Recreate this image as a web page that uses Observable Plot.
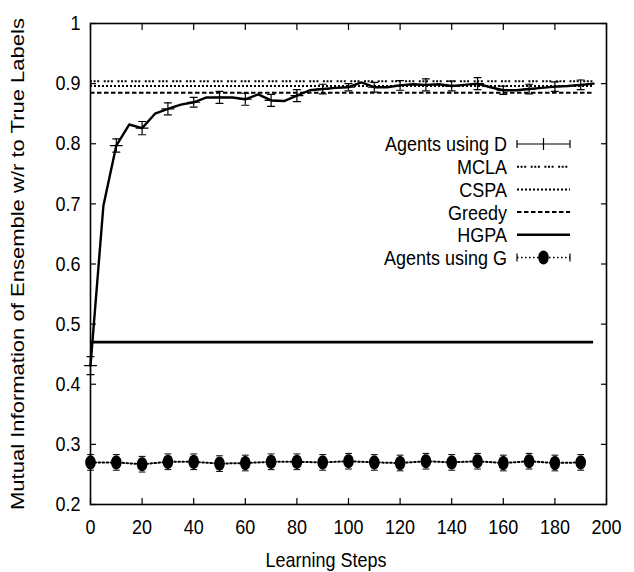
<!DOCTYPE html>
<html>
<head>
<meta charset="utf-8">
<script src="https://cdn.jsdelivr.net/npm/d3@7"></script>
<script src="https://cdn.jsdelivr.net/npm/@observablehq/plot@0.6"></script>
<style>
  html, body { margin: 0; padding: 0; background: white; }
  #chart svg { display: block; }
</style>
</head>
<body>
<div id="chart"></div>
<script>
// ---- data ----
const xTicks = [0, 20, 40, 60, 80, 100, 120, 140, 160, 180, 200];
const yTicks = [0.2, 0.3, 0.4, 0.5, 0.6, 0.7, 0.8, 0.9, 1];

const dSteps = [0,5,10,15,20,25,30,35,40,45,50,55,60,65,70,75,80,85,90,95,100,105,110,115,120,125,130,135,140,145,150,155,160,165,170,175,180,185,190,195];
const dValues = [0.431,0.697,0.797,0.832,0.826,0.850,0.858,0.865,0.869,0.877,0.877,0.877,0.874,0.882,0.872,0.871,0.880,0.889,0.891,0.893,0.894,0.902,0.894,0.894,0.897,0.899,0.898,0.899,0.896,0.898,0.900,0.894,0.889,0.889,0.891,0.893,0.895,0.896,0.898,0.900];

const errSteps = [0,10,20,30,40,50,60,70,80,90,100,110,120,130,140,150,160,170,180,190];
const dErr = [0.015,0.011,0.011,0.010,0.008,0.010,0.010,0.010,0.010,0.008,0.006,0.008,0.008,0.010,0.008,0.010,0.007,0.008,0.008,0.008];

const gValues = [0.270,0.270,0.267,0.271,0.271,0.268,0.269,0.271,0.271,0.270,0.272,0.270,0.269,0.272,0.270,0.272,0.269,0.272,0.269,0.270];
const gErr = [0.013,0.013,0.013,0.013,0.013,0.013,0.013,0.013,0.013,0.013,0.013,0.013,0.013,0.013,0.013,0.013,0.013,0.013,0.013,0.013];

const refNames = ["MCLA", "CSPA", "Greedy", "HGPA"];
const refValues = [0.904, 0.896, 0.885, 0.470];
const refSpan = [0, 195];

const legendLabels = ["Agents using D", "MCLA", "CSPA", "Greedy", "HGPA", "Agents using G"];

// ---- styles ----
const refDash = {MCLA: "2,1.6,2,1.6,2,4.5", CSPA: "2,2", Greedy: "4.5,2.5", HGPA: null};
const refWidth = {MCLA: 2, CSPA: 2, Greedy: 2, HGPA: 2.6};

// ---- tables ----
const dLine = dSteps.map((s, i) => ({step: s, value: dValues[i]}));
const dBars = errSteps.map((s, i) => {
  const v = dValues[dSteps.indexOf(s)];
  return {step: s, value: v, lo: v - dErr[i], hi: v + dErr[i]};
});
const gPts = errSteps.map((s, i) => ({step: s, value: gValues[i], lo: gValues[i] - gErr[i], hi: gValues[i] + gErr[i]}));
const refs = refNames.map((n, i) => ({name: n, value: refValues[i]}));

const ellipse = {
  draw(ctx, size) {
    const r = Math.sqrt(size / Math.PI);
    const rx = r * 0.88, ry = r * 1.18, n = 28;
    for (let k = 0; k <= n; k++) {
      const a = 2 * Math.PI * k / n;
      const px = rx * Math.cos(a), py = ry * Math.sin(a);
      if (k === 0) ctx.moveTo(px, py); else ctx.lineTo(px, py);
    }
    ctx.closePath();
  }
};
const stroke = { draw(ctx, l) { ctx.moveTo(0, 0); ctx.lineTo(0, -l); } };

const font = "'Liberation Sans', Arial, Helvetica, sans-serif";
const none = () => "";

const chart = Plot.plot({
  width: 634,
  height: 572,
  marginLeft: 90,
  marginRight: 28,
  marginTop: 23,
  marginBottom: 68,
  style: {fontFamily: font, fontSize: "18px", background: "white", color: "black", overflow: "visible"},
  x: {domain: [0, 200]},
  y: {domain: [0.2, 1]},
  marks: [
    // reference lines
    ...refs.map(r => Plot.ruleY([r], {
      y: "value", x1: refSpan[0], x2: refSpan[1],
      stroke: "black", strokeWidth: refWidth[r.name], strokeDasharray: refDash[r.name]
    })),
    // Agents using G
    Plot.line(gPts, {x: "step", y: "value", stroke: "black", strokeWidth: 2, strokeDasharray: "1.6,2.4"}),
    Plot.ruleX(gPts, {x: "step", y1: "lo", y2: "hi", stroke: "black", strokeWidth: 0.8, strokeDasharray: "1.5,1.5"}),
    Plot.vector(gPts, {x: "step", y: "lo", length: 6, rotate: 90, anchor: "middle", shape: stroke, stroke: "black", strokeWidth: 1}),
    Plot.vector(gPts, {x: "step", y: "hi", length: 6, rotate: 90, anchor: "middle", shape: stroke, stroke: "black", strokeWidth: 1}),
    Plot.dot(gPts, {x: "step", y: "value", r: 6, symbol: ellipse, fill: "black", stroke: "none"}),
    // Agents using D
    Plot.line(dLine, {x: "step", y: "value", stroke: "black", strokeWidth: 2.4}),
    Plot.ruleX(dBars, {x: "step", y1: "lo", y2: "hi", stroke: "black", strokeWidth: 1.2}),
    Plot.vector(dBars, {x: "step", y: "lo", length: 7, rotate: 90, anchor: "middle", shape: stroke, stroke: "black", strokeWidth: 1.2}),
    Plot.vector(dBars, {x: "step", y: "hi", length: 7, rotate: 90, anchor: "middle", shape: stroke, stroke: "black", strokeWidth: 1.2}),
    Plot.vector(dBars, {x: "step", y: "value", length: 12, rotate: 90, anchor: "middle", shape: stroke, stroke: "black", strokeWidth: 1.2}),
    // axes: labels (no tick marks)
    Plot.axisX({ticks: xTicks, tickSize: 0, tickPadding: 16, tickFormat: d => String(d), label: null}),
    Plot.axisY({ticks: yTicks, tickSize: 0, tickPadding: 10, tickFormat: d => d === 1 ? "1" : d.toFixed(1), label: null}),
    // axes: inward tick marks on all four sides
    Plot.axisX({ticks: xTicks, tickSize: -6, tickFormat: none, label: null, strokeWidth: 1.2}),
    Plot.axisX({anchor: "top", ticks: xTicks, tickSize: -6, tickFormat: none, label: null, strokeWidth: 1.2}),
    Plot.axisY({ticks: yTicks, tickSize: -6, tickFormat: none, label: null, strokeWidth: 1.2}),
    Plot.axisY({anchor: "right", ticks: yTicks, tickSize: -6, tickFormat: none, label: null, strokeWidth: 1.2}),
    Plot.frame({stroke: "black", strokeWidth: 1.6})
  ]
});

document.getElementById("chart").appendChild(chart);

// ---- axis titles & legend (annotation layer) ----
const svg = d3.select(chart);
svg.append("text")
  .attr("transform", "translate(18,264) rotate(-90)")
  .attr("text-anchor", "middle").attr("dominant-baseline", "central")
  .attr("font-family", font).attr("font-size", 18)
  .attr("textLength", 492).attr("lengthAdjust", "spacingAndGlyphs")
  .attr("fill", "black")
  .attr("class", "noscale")
  .text("Mutual Information of Ensemble w/r to True Labels");
svg.append("text")
  .attr("x", 326).attr("y", 560)
  .attr("text-anchor", "middle").attr("dominant-baseline", "central")
  .attr("font-family", font).attr("font-size", 18).attr("fill", "black")
  .text("Learning Steps");

const lg = svg.append("g");
const lx0 = 517, lx1 = 570, lxm = 543.5, ly0 = 144, ldy = 22.7, ltx = 507;
legendLabels.forEach((lab, i) => {
  const y = ly0 + i * ldy;
  lg.append("text").attr("x", ltx).attr("y", y)
    .attr("text-anchor", "end").attr("dominant-baseline", "central")
    .attr("font-family", font).attr("font-size", 18).attr("fill", "black").text(lab);
  let dash = null, sw = 2;
  if (i === 0) { sw = 1.2; }
  else if (i <= 4) { dash = refDash[refNames[i - 1]]; sw = refWidth[refNames[i - 1]]; }
  else { dash = "1.6,2.4"; sw = 1.5; }
  lg.append("line").attr("x1", lx0).attr("x2", lx1).attr("y1", y).attr("y2", y)
    .attr("stroke", "black").attr("stroke-width", sw).attr("stroke-dasharray", dash);
  if (i === 0 || i === 5) {
    [lx0, lx1].forEach(x => lg.append("line").attr("x1", x).attr("x2", x).attr("y1", y - 4).attr("y2", y + 4)
      .attr("stroke", "black").attr("stroke-width", 1.2));
  }
  if (i === 0) {
    lg.append("line").attr("x1", lxm).attr("x2", lxm).attr("y1", y - 6).attr("y2", y + 6)
      .attr("stroke", "black").attr("stroke-width", 1.2);
  }
  if (i === 5) {
    lg.append("ellipse").attr("cx", lxm).attr("cy", y).attr("rx", 5.3).attr("ry", 7).attr("fill", "black");
  }
});

// stretch glyphs vertically (the reference type is tall and narrow)
svg.selectAll("text").each(function () {
  if (this.classList.contains("noscale")) return;
  const bb = this.getBBox();
  if (!bb.width) return;
  const cx = bb.x + bb.width / 2, cy = bb.y + bb.height / 2;
  const t = this.getAttribute("transform") || "";
  this.setAttribute("transform", `${t} translate(${cx},${cy}) scale(1,1.15) translate(${-cx},${-cy})`);
});
</script>
</body>
</html>
